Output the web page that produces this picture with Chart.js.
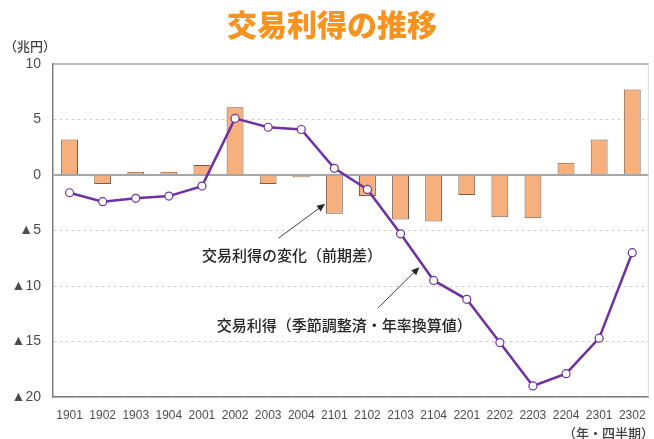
<!DOCTYPE html>
<html>
<head>
<meta charset="utf-8">
<script src="https://cdn.jsdelivr.net/npm/chart.js@4.4.1/dist/chart.umd.min.js"></script>
<style>
  html, body { margin: 0; padding: 0; background: #ffffff; }
  #wrap { width: 654px; height: 439px; position: relative; }
</style>
</head>
<body>
<div id="wrap"><canvas id="chart-koeki" width="654" height="439"></canvas></div>
<script>
// 四半期ラベル
var quarters = ["1901", "1902", "1903", "1904", "2001", "2002", "2003", "2004", "2101",
    "2102", "2103", "2104", "2201", "2202", "2203", "2204", "2301", "2302"];

// 交易利得の変化（前期差）
var changeValues = [3.2, -0.8, 0.3, 0.3, 0.9, 6.1, -0.8, -0.2, -3.5,
    -1.9, -4.0, -4.2, -1.8, -3.8, -3.9, 1.1, 3.2, 7.7];

// 交易利得（季節調整済・年率換算値）
var levelValues = [-1.6, -2.4, -2.1, -1.9, -1.0, 5.1, 4.3, 4.1, 0.6,
    -1.3, -5.3, -9.5, -11.2, -15.1, -19.0, -17.9, -14.7, -7.0];

// 縦軸目盛
var yTicks = [10, 5, 0, -5, -10, -15, -20];

var titleText = "交易利得の推移";
var unitText = "（兆円）";
var periodText = "（年・四半期）";
var labelChange = "交易利得の変化（前期差）";
var labelLevel = "交易利得（季節調整済・年率換算値）";

var jpFont = "'Noto Sans CJK JP', sans-serif";
var numFont = "'Liberation Sans', Arial, sans-serif";

function arrow(ctx, x1, y1, x2, y2) {
    var ang = Math.atan2(y2 - y1, x2 - x1);
    ctx.beginPath();
    ctx.moveTo(x1, y1);
    ctx.lineTo(x2 - 5 * Math.cos(ang), y2 - 5 * Math.sin(ang));
    ctx.stroke();
    ctx.beginPath();
    ctx.moveTo(x2, y2);
    ctx.lineTo(x2 - 8 * Math.cos(ang) + 3.5 * Math.sin(ang), y2 - 8 * Math.sin(ang) - 3.5 * Math.cos(ang));
    ctx.lineTo(x2 - 8 * Math.cos(ang) - 3.5 * Math.sin(ang), y2 - 8 * Math.sin(ang) + 3.5 * Math.cos(ang));
    ctx.closePath();
    ctx.fill();
}

// タイトル・単位・注記
var decoPlugin = {
    id: "deco",
    afterDraw: function (chart) {
        var ctx = chart.ctx;
        var xs = chart.scales.x;
        var ys = chart.scales.y;
        var area = chart.chartArea;
        ctx.save();

        // 右枠線
        ctx.strokeStyle = "#D9D9D9";
        ctx.lineWidth = 1;
        ctx.beginPath();
        ctx.moveTo(area.right - 0.5, area.top);
        ctx.lineTo(area.right - 0.5, area.bottom);
        ctx.stroke();

        ctx.fillStyle = "#F7931E";
        ctx.font = "900 30px " + jpFont;
        ctx.textAlign = "center";
        ctx.textBaseline = "middle";
        ctx.fillText(titleText, 332, 25);

        ctx.fillStyle = "#404040";
        ctx.font = "500 13px " + jpFont;
        ctx.textAlign = "left";
        ctx.fillText(unitText, 4, 46);
        ctx.textAlign = "right";
        ctx.fillText(periodText, 654, 433);

        // 注記
        ctx.fillStyle = "#262626";
        ctx.font = "500 15px " + jpFont;
        ctx.textAlign = "center";
        ctx.fillText(labelChange, xs.getPixelForValue(6.72), ys.getPixelForValue(-7.2));
        ctx.fillText(labelLevel, xs.getPixelForValue(8.3), ys.getPixelForValue(-13.5));

        ctx.strokeStyle = "#404040";
        ctx.fillStyle = "#262626";
        ctx.lineWidth = 1;
        arrow(ctx, xs.getPixelForValue(6.32), ys.getPixelForValue(-5.68),
            xs.getPixelForValue(7.72), ys.getPixelForValue(-2.6));
        arrow(ctx, xs.getPixelForValue(9.31), ys.getPixelForValue(-12.0),
            xs.getPixelForValue(10.57), ys.getPixelForValue(-8.3));

        ctx.restore();
    },
};

var ctx = document.getElementById("chart-koeki");
new Chart(ctx, {
    type: "bar",
    data: {
        labels: quarters,
        datasets: [
            {
                type: "line",
                label: labelLevel,
                data: levelValues,
                borderColor: "#7030A0",
                borderWidth: 2.5,
                pointRadius: 4,
                pointBorderWidth: 1.2,
                pointBackgroundColor: "#FFFFFF",
                pointBorderColor: "#7030A0",
                tension: 0,
                order: 0,
            },
            {
                type: "bar",
                label: labelChange,
                data: changeValues,
                backgroundColor: "#F5B07E",
                borderColor: "#7A5A48",
                borderWidth: 1,
                barPercentage: 0.51,
                categoryPercentage: 1,
                order: 1,
            },
        ],
    },
    options: {
        responsive: false,
        animation: false,
        devicePixelRatio: 1,
        layout: { padding: { top: 64, right: 1, left: 0, bottom: 0 } },
        plugins: {
            legend: { display: false },
            tooltip: { enabled: false },
        },
        scales: {
            x: {
                afterFit: function (scale) { scale.height = 42; },
                grid: { display: false },
                border: { display: true, color: "#7F7F7F", width: 1.5 },
                ticks: {
                    color: "#4D4D4D",
                    font: { size: 12, family: numFont },
                    maxRotation: 0,
                    autoSkip: false,
                    padding: 3,
                },
            },
            y: {
                min: -20,
                max: 10,
                afterFit: function (scale) { scale.width = 53; },
                afterBuildTicks: function (scale) {
                    scale.ticks = yTicks.map(function (v) { return { value: v }; });
                },
                grid: {
                    drawTicks: false,
                    color: function (c) {
                        if (c.tick && c.tick.value === 0) return "#A6A6A6";
                        if (c.tick && c.tick.value === 10) return "#BDBDBD";
                        return "#D0D0D0";
                    },
                    lineWidth: function (c) {
                        if (c.tick && (c.tick.value === 0 || c.tick.value === 10)) return 2;
                        return 1;
                    },
                },
                border: {
                    display: true,
                    color: "#7F7F7F",
                    width: 1.5,
                    dash: function (c) {
                        if (c.tick && (c.tick.value === 0 || c.tick.value === 10)) return [];
                        return [3, 3];
                    },
                },
                ticks: {
                    color: "#4D4D4D",
                    font: { size: 14, family: numFont },
                    padding: 12,
                    callback: function (value) {
                        if (value < 0) return "▲" + Math.abs(value);
                        return String(value);
                    },
                },
            },
        },
    },
    plugins: [decoPlugin],
});
</script>
</body>
</html>
